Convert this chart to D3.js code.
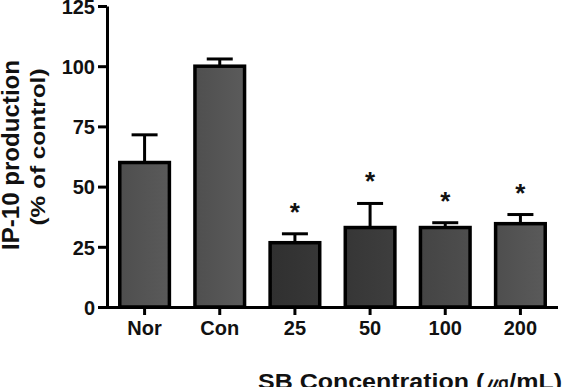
<!DOCTYPE html>
<html>
<head>
<meta charset="utf-8">
<script src="https://cdn.jsdelivr.net/npm/d3@7"></script>
<style>
  body { margin: 0; background: #fff; }
  svg text { font-family: "Liberation Sans", Arial, sans-serif; font-weight: bold; fill: #111; }
  .axis path, .axis line { stroke: #000; stroke-width: 3; }
</style>
</head>
<body>
<div class="chart"></div>
<script>
var width = 575
var height = 387

// data
var groups = ["Nor", "Con", "25", "50", "100", "200"]
var means = [60, 100, 26.7, 33, 33, 34.6]
var errors = [11.5, 3, 3.7, 10, 2, 3.8]
var significant = [false, false, true, true, true, true]
var yTicks = [0, 25, 50, 75, 100, 125]

// bar shades, left to right
var shades = ["#555555", "#565656", "#343434", "#3b3b3b", "#4a4a4a", "#555555"]

var svg = d3.select(".chart").append("svg")
            .attr("width", width)
            .attr("height", height);

var x = d3.scaleBand()
          .domain(groups)
          .range([107, 558])
          .paddingInner(0.3)
          .paddingOuter(0.15);

var y = d3.scaleLinear()
          .domain([0, 125])
          .range([307, 6]);

var defs = svg.append("defs");
shades.forEach(function(c, i) {
  var g = defs.append("linearGradient")
              .attr("id", "grad" + i)
              .attr("x1", "0%").attr("x2", "100%")
              .attr("y1", "0%").attr("y2", "0%");
  g.append("stop").attr("offset", "0%").attr("stop-color", d3.color(c).darker(0.25));
  g.append("stop").attr("offset", "100%").attr("stop-color", d3.color(c).brighter(0.15));
});

var bars = groups.map(function(g, i) {
  return { group: g, mean: means[i], err: errors[i], sig: significant[i], idx: i };
});

// error bars (upper only)
svg.selectAll(".err")
   .data(bars)
   .enter()
   .append("line")
   .attr("x1", function(d) { return x(d.group) + x.bandwidth() / 2; })
   .attr("x2", function(d) { return x(d.group) + x.bandwidth() / 2; })
   .attr("y1", function(d) { return y(d.mean); })
   .attr("y2", function(d) { return y(d.mean + d.err); })
   .attr("stroke", "#000")
   .attr("stroke-width", 3);

svg.selectAll(".cap")
   .data(bars)
   .enter()
   .append("line")
   .attr("x1", function(d) { return x(d.group) + x.bandwidth() / 2 - 13; })
   .attr("x2", function(d) { return x(d.group) + x.bandwidth() / 2 + 13; })
   .attr("y1", function(d) { return y(d.mean + d.err); })
   .attr("y2", function(d) { return y(d.mean + d.err); })
   .attr("stroke", "#000")
   .attr("stroke-width", 3);

svg.selectAll("rect.bar")
   .data(bars)
   .enter()
   .append("rect")
   .attr("class", "bar")
   .attr("x", function(d) { return x(d.group) + 1.5; })
   .attr("y", function(d) { return y(d.mean); })
   .attr("width", x.bandwidth() - 3)
   .attr("height", function(d) { return y(0) - y(d.mean); })
   .attr("fill", function(d) { return "url(#grad" + d.idx + ")"; })
   .attr("stroke", "#000")
   .attr("stroke-width", 3.5);

svg.selectAll(".star")
   .data(bars.filter(function(d) { return d.sig; }))
   .enter()
   .append("text")
   .attr("x", function(d) { return x(d.group) + x.bandwidth() / 2; })
   .attr("y", function(d) { return y(d.mean + d.err) - 13; })
   .attr("text-anchor", "middle")
   .style("font-size", "26px")
   .text("*");

// axes
var yAxis = svg.append("g")
               .attr("class", "axis")
               .attr("transform", "translate(107,0)")
               .call(d3.axisLeft(y).tickValues(yTicks).tickSize(9).tickSizeOuter(0));

yAxis.selectAll("text")
     .attr("x", -12)
     .attr("dy", "0.36em")
     .style("font-size", "20px");

var xAxis = svg.append("g")
               .attr("class", "axis")
               .attr("transform", "translate(0,307)")
               .call(d3.axisBottom(x).tickSize(8).tickSizeOuter(0));

xAxis.select(".domain").attr("d", "M105.5,0.5H558");

xAxis.selectAll("text")
     .attr("y", 14)
     .style("font-size", "20px");

svg.selectAll(".axis text").style("fill", "#111").style("font-family", "'Liberation Sans', Arial, sans-serif");

// axis titles
var yTitle = svg.append("text")
                .attr("transform", "translate(19,155) rotate(-90)")
                .attr("text-anchor", "middle")
                .attr("textLength", 190)
                .attr("lengthAdjust", "spacingAndGlyphs")
                .style("font-size", "23px")
                .text("IP-10 production");

var yTitle2 = svg.append("text")
                 .attr("transform", "translate(45,147) rotate(-90)")
                 .attr("text-anchor", "middle")
                 .attr("textLength", 157)
                 .attr("lengthAdjust", "spacingAndGlyphs")
                 .style("font-size", "21px")
                 .text("(% of control)");

var xTitle = svg.append("text")
                .attr("x", 410)
                .attr("y", 389)
                .attr("text-anchor", "middle")
                .attr("textLength", 304)
                .attr("lengthAdjust", "spacingAndGlyphs")
                .style("font-size", "22px")
                .text("SB Concentration (㎍/mL)");
</script>
</body>
</html>
